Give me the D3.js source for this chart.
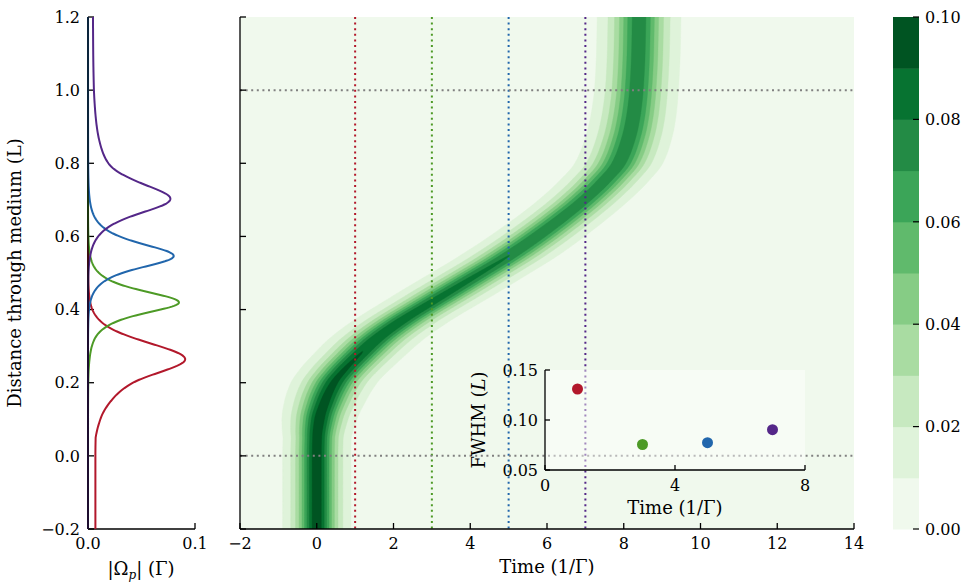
<!DOCTYPE html>
<html><head><meta charset="utf-8">
<script src="https://cdn.jsdelivr.net/npm/d3@7"></script>
<style>
body{margin:0;background:#fff;}
text{font-family:"DejaVu Serif",serif;fill:#000;}
</style></head><body>
<svg id="chart" width="970" height="585"></svg>
<script>
// ================= DATA =================
// pulse trajectory: time of pulse peak at each distance
const trajZ = [-0.2, 0.0, 0.05, 0.10, 0.15, 0.20, 0.235, 0.265, 0.32, 0.37, 0.42, 0.48, 0.547, 0.62, 0.703, 0.75, 0.80, 0.85, 0.90, 0.95, 1.00, 1.10, 1.20];
const trajT = [0.00, 0.00, 0.01, 0.07, 0.22, 0.45, 0.72, 1.00, 1.56, 2.22, 3.00, 3.95, 5.00, 6.00, 7.00, 7.47, 7.87, 8.07, 8.20, 8.28, 8.33, 8.38, 8.40];
// peak |Omega_p| along the trajectory
const ampZ = [-0.2, 0.10, 0.20, 0.26, 0.42, 0.55, 0.70, 0.90, 1.20];
const ampV = [0.097, 0.097, 0.093, 0.091, 0.085, 0.080, 0.077, 0.077, 0.077];
// temporal half-width parameter of the pulse (sech profile)
const widthZ = [-0.2, 0.05, 0.15, 0.25, 0.35, 0.45, 0.55, 0.65, 0.80, 1.00, 1.20];
const widthV = [0.30, 0.30, 0.36, 0.41, 0.44, 0.46, 0.46, 0.44, 0.42, 0.40, 0.40];
// slice times (left panel and dotted guides) and FWHM inset
const sliceTimes = [1, 3, 5, 7];
const fwhmTimes = [1, 3, 5, 7];
const fwhmValues = [0.131, 0.0755, 0.0773, 0.0903];
// contour levels and ticks
const levels = [0, 0.01, 0.02, 0.03, 0.04, 0.05, 0.06, 0.07, 0.08, 0.09, 0.10];
const mainXTicks = [-2, 0, 2, 4, 6, 8, 10, 12, 14];
const zTicks = [-0.2, 0.0, 0.2, 0.4, 0.6, 0.8, 1.0, 1.2];
const ampTicks = [0.0, 0.1];
const cbTicks = [0.00, 0.02, 0.04, 0.06, 0.08, 0.10];
const insetXTicks = [0, 4, 8];
const insetYTicks = [0.05, 0.10, 0.15];
const guideZ = [0.0, 1.0];

// ================= STYLE =================
const sliceColors = ["#b2182b", "#4d9a26", "#2166ac", "#542788"];
const greensAnchors = ["#f7fcf5","#e5f5e0","#c7e9c0","#a1d99b","#74c476","#41ab5d","#238b45","#006d2c","#00441b"];
const greens = d3.scaleLinear().domain(greensAnchors.map((c,i)=>i/8)).range(greensAnchors);
const nBands = levels.length - 1;
const bandColor = k => greens((k + 0.5) / nBands);

const svg = d3.select("#chart");
const TOP = 17, BOT = 529;
const tickFont = 16, labFont = 18;

// scales
const zScale = d3.scaleLinear().domain([-0.2, 1.2]).range([BOT, TOP]);
const ampScale = d3.scaleLinear().domain([0, 0.1]).range([88, 195]);
const tScale = d3.scaleLinear().domain([-2, 14]).range([240, 854]);
const cbScale = d3.scaleLinear().domain([0, 0.1]).range([BOT, TOP]);
const insX = d3.scaleLinear().domain([0, 8]).range([545, 805]);
const insY = d3.scaleLinear().domain([0.05, 0.15]).range([470, 370]);

// monotone cubic through read knots
function monotone(xs, ys) {
  const n = xs.length, d = [], m = [];
  for (let i = 0; i < n - 1; i++) d.push((ys[i+1]-ys[i])/(xs[i+1]-xs[i]));
  m[0] = d[0]; m[n-1] = d[n-2];
  for (let i = 1; i < n - 1; i++) {
    if (d[i-1]*d[i] <= 0) m[i] = 0;
    else { const h0 = xs[i]-xs[i-1], h1 = xs[i+1]-xs[i];
      m[i] = 3*(h0+h1)/((2*h1+h0)/d[i-1] + (h1+2*h0)/d[i]); }
  }
  return x => {
    if (x <= xs[0]) return ys[0];
    if (x >= xs[n-1]) return ys[n-1];
    let i = d3.bisectRight(xs, x) - 1;
    const h = xs[i+1]-xs[i], s = (x - xs[i])/h;
    const h00 = 2*s*s*s - 3*s*s + 1, h10 = s*s*s - 2*s*s + s, h01 = -2*s*s*s + 3*s*s, h11 = s*s*s - s*s;
    return h00*ys[i] + h10*h*m[i] + h01*ys[i+1] + h11*h*m[i+1];
  };
}
const Tz = monotone(trajZ, trajT);
const Az = d3.scaleLinear().domain(ampZ).range(ampV).clamp(true);
const Wz = d3.scaleLinear().domain(widthZ).range(widthV).clamp(true);
const field = (t, z) => Az(z) / Math.cosh((t - Tz(z)) / Wz(z));

// ================= MAIN CONTOUR PLOT =================
const defs = svg.append("defs");
defs.append("clipPath").attr("id","mainClip").append("rect")
  .attr("x",240).attr("y",TOP).attr("width",614).attr("height",BOT-TOP);

const nx = 640, nz = 520;
const tMin = -2, tMax = 14, zMin = -0.2, zMax = 1.2;
const values = new Float64Array(nx*nz);
for (let j = 0; j < nz; j++) {
  const z = zMin + j*(zMax-zMin)/(nz-1);
  for (let i = 0; i < nx; i++) {
    const t = tMin + i*(tMax-tMin)/(nx-1);
    values[j*nx+i] = field(t, z);
  }
}
const contours = d3.contours().size([nx, nz]).thresholds(levels.slice(1, -1))(values);
const proj = d3.geoTransform({ point: function(x, y) {
  const t = tMin + (x - 0.5)*(tMax-tMin)/(nx-1);
  const z = zMin + (y - 0.5)*(zMax-zMin)/(nz-1);
  this.stream.point(tScale(t), zScale(z));
}});
const path = d3.geoPath(proj);
const gMain = svg.append("g").attr("clip-path","url(#mainClip)");
gMain.append("rect").attr("x",240).attr("y",TOP).attr("width",614).attr("height",BOT-TOP).attr("fill", bandColor(0));
gMain.selectAll("path.band").data(contours).join("path").attr("class","band")
  .attr("d", path).attr("fill", (d,i) => bandColor(i+1)).attr("stroke", (d,i)=>bandColor(i+1)).attr("stroke-width",0.4);

// dotted guides
gMain.selectAll("line.vg").data(sliceTimes).join("line").attr("class","vg")
  .attr("x1", d=>tScale(d)).attr("x2", d=>tScale(d)).attr("y1", TOP).attr("y2", BOT)
  .attr("stroke", (d,i)=>sliceColors[i]).attr("stroke-width", 2).attr("stroke-dasharray","2,3.6");
gMain.selectAll("line.hg").data(guideZ).join("line").attr("class","hg")
  .attr("x1", 240).attr("x2", 854).attr("y1", d=>zScale(d)).attr("y2", d=>zScale(d))
  .attr("stroke", "#808080").attr("stroke-width", 2).attr("stroke-dasharray","2,3.6");

// main axes
const axMain = svg.append("g").attr("stroke","#000").attr("stroke-width",1.3).attr("fill","none");
axMain.append("line").attr("x1",240).attr("x2",240).attr("y1",TOP).attr("y2",BOT);
axMain.append("line").attr("x1",240).attr("x2",854).attr("y1",BOT).attr("y2",BOT);
axMain.selectAll("line.yt").data(zTicks).join("line").attr("class","yt")
  .attr("x1",240).attr("x2",246).attr("y1",d=>zScale(d)).attr("y2",d=>zScale(d));
axMain.selectAll("line.xt").data(mainXTicks).join("line").attr("class","xt")
  .attr("x1",d=>tScale(d)).attr("x2",d=>tScale(d)).attr("y1",BOT).attr("y2",BOT-6);
svg.append("g").selectAll("text").data(mainXTicks).join("text")
  .attr("x",d=>tScale(d)).attr("y",BOT+20).attr("text-anchor","middle").attr("font-size",tickFont)
  .text(d3.format("d"));
svg.append("text").attr("x",547).attr("y",573).attr("text-anchor","middle").attr("font-size",labFont)
  .text("Time (1/Γ)");

// ================= LEFT PANEL =================
const axL = svg.append("g").attr("stroke","#000").attr("stroke-width",1.3).attr("fill","none");
axL.append("line").attr("x1",88).attr("x2",195).attr("y1",BOT).attr("y2",BOT);
axL.selectAll("line.yt").data(zTicks).join("line").attr("class","yt")
  .attr("x1",88).attr("x2",94).attr("y1",d=>zScale(d)).attr("y2",d=>zScale(d));
axL.selectAll("line.xt").data(ampTicks).join("line").attr("class","xt")
  .attr("x1",d=>ampScale(d)).attr("x2",d=>ampScale(d)).attr("y1",BOT).attr("y2",BOT-6);

const zSamples = d3.range(0, 701).map(k => -0.2 + k*0.002);
const lineL = d3.line().x(d=>ampScale(d[0])).y(d=>zScale(d[1]));
svg.append("g").selectAll("path").data(sliceTimes).join("path")
  .attr("d", t => lineL(zSamples.map(z => [field(t, z), z])))
  .attr("fill","none").attr("stroke",(d,i)=>sliceColors[i]).attr("stroke-width",2);
svg.append("line").attr("x1",88).attr("x2",88).attr("y1",TOP).attr("y2",BOT).attr("stroke","#000").attr("stroke-width",1.3);

svg.append("g").selectAll("text").data(zTicks).join("text")
  .attr("x",80).attr("y",d=>zScale(d)).attr("dy","0.36em").attr("text-anchor","end").attr("font-size",tickFont)
  .text(d3.format(".1f"));
svg.append("g").selectAll("text").data(ampTicks).join("text")
  .attr("x",d=>ampScale(d)).attr("y",BOT+20).attr("text-anchor","middle").attr("font-size",tickFont)
  .text(d3.format(".1f"));
svg.append("text").attr("transform","translate(21,273) rotate(-90)").attr("text-anchor","middle")
  .attr("font-size",labFont).text("Distance through medium (L)");
const al = svg.append("text").attr("x",141).attr("y",575).attr("text-anchor","middle").attr("font-size",labFont);
al.append("tspan").text("|Ω");
al.append("tspan").attr("font-style","italic").attr("font-size",12).attr("dy",4).text("p");
al.append("tspan").attr("dy",-4).text("| (Γ)");

// ================= COLORBAR =================
const gCb = svg.append("g");
gCb.selectAll("rect").data(d3.range(nBands)).join("rect")
  .attr("x",893).attr("width",26)
  .attr("y",k=>cbScale(levels[k+1])).attr("height",k=>cbScale(levels[k])-cbScale(levels[k+1])+0.5)
  .attr("fill",k=>bandColor(k));
gCb.selectAll("line").data(cbTicks).join("line")
  .attr("x1",913).attr("x2",919).attr("y1",d=>cbScale(d)).attr("y2",d=>cbScale(d))
  .attr("stroke","#000").attr("stroke-width",1.2);
gCb.selectAll("text").data(cbTicks).join("text")
  .attr("x",925).attr("y",d=>cbScale(d)).attr("dy","0.36em").attr("font-size",tickFont)
  .text(d3.format(".2f"));

// ================= INSET =================
svg.append("rect").attr("x",545).attr("y",370).attr("width",260).attr("height",100)
  .attr("fill","#fff").attr("fill-opacity",0.45);
const axI = svg.append("g").attr("stroke","#000").attr("stroke-width",1.3).attr("fill","none");
axI.append("line").attr("x1",545).attr("x2",545).attr("y1",370).attr("y2",470);
axI.append("line").attr("x1",545).attr("x2",805).attr("y1",470).attr("y2",470);
axI.selectAll("line.yt").data(insetYTicks).join("line").attr("class","yt")
  .attr("x1",545).attr("x2",550).attr("y1",d=>insY(d)).attr("y2",d=>insY(d));
axI.selectAll("line.xt").data(insetXTicks).join("line").attr("class","xt")
  .attr("x1",d=>insX(d)).attr("x2",d=>insX(d)).attr("y1",470).attr("y2",465);
svg.append("g").selectAll("circle").data(fwhmTimes).join("circle")
  .attr("cx",d=>insX(d)).attr("cy",(d,i)=>insY(fwhmValues[i])).attr("r",5.5)
  .attr("fill",(d,i)=>sliceColors[i]);
svg.append("g").selectAll("text").data(insetYTicks).join("text")
  .attr("x",538).attr("y",d=>insY(d)).attr("dy","0.36em").attr("text-anchor","end").attr("font-size",tickFont)
  .text(d3.format(".2f"));
svg.append("g").selectAll("text").data(insetXTicks).join("text")
  .attr("x",d=>insX(d)).attr("y",491).attr("text-anchor","middle").attr("font-size",tickFont)
  .text(d3.format("d"));
svg.append("text").attr("x",675).attr("y",514).attr("text-anchor","middle").attr("font-size",labFont).text("Time (1/Γ)");
const fl = svg.append("text").attr("transform","translate(485,420) rotate(-90)").attr("text-anchor","middle").attr("font-size",labFont);
fl.append("tspan").text("FWHM (");
fl.append("tspan").attr("font-style","italic").text("L");
fl.append("tspan").text(")");
</script>
</body></html>
